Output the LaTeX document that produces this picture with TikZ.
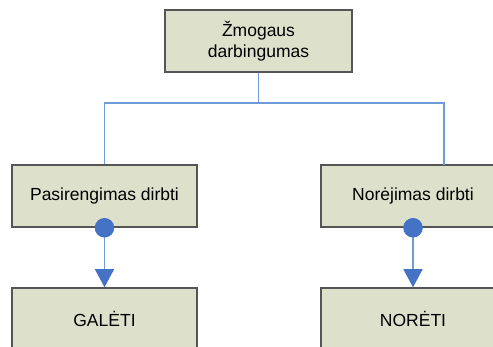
\documentclass[tikz,border=0pt]{standalone}
\usepackage{fontspec}
\setmainfont{Liberation Sans}
\usetikzlibrary{arrows.meta,calc}
\definecolor{boxfill}{HTML}{DDE0CB}
\definecolor{boxline}{HTML}{555555}
\definecolor{linkblue}{HTML}{6F9BD8}
\definecolor{dotblue}{HTML}{4472C4}
\tikzset{
  card/.style={draw=boxline, fill=boxfill, line width=1.5pt, rectangle,
    minimum height=62pt, inner sep=0pt, align=center,
    font=\fontsize{17.5}{20.5}\selectfont},
  link/.style={draw=linkblue, line width=1.3pt},
  flow/.style={link, -{Triangle[width=19pt,length=18pt,color=dotblue]}},
  dot/.style={fill=dotblue}
}
\begin{document}
\begin{tikzpicture}[x=1pt,y=-1pt]
\useasboundingbox (0,0) rectangle (493,347);
\clip (0,0) rectangle (493,347);
% boxes
\node[card, minimum width=187pt] (top) at (258.5,41) {Žmogaus\\darbingumas};
\node[card, minimum width=185pt] (prep) at (104.5,196) {Pasirengimas dirbti};
\node[card, minimum width=184pt] (will) at (413,196) {Norėjimas dirbti};
\node[card, minimum width=185pt] (can) at (104.5,319) {GALĖTI};
\node[card, minimum width=184pt] (want) at (413,319) {NORĖTI};
% tree connectors
\coordinate (hub) at (258.5,103);
\coordinate (wjoin) at (444,165);
\draw[link] (top.south) -- (hub);
\draw[link] (prep.north) |- (hub) -| (wjoin);
% flow arrows with dot at start
\draw[flow] (prep.south) -- (can.north);
\draw[flow] (will.south) -- (want.north);
\fill[dot] (prep.south) circle (9.8);
\fill[dot] (will.south) circle (9.8);
\end{tikzpicture}
\end{document}
